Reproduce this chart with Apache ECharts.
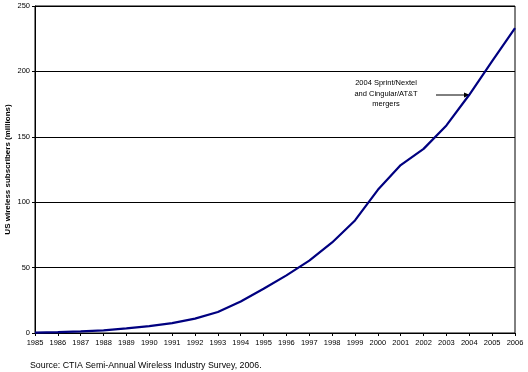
<!DOCTYPE html>
<html><head><meta charset="utf-8">
<script src="https://cdn.jsdelivr.net/npm/echarts@6/dist/echarts.min.js"></script>
<style>html,body{margin:0;padding:0;background:#fff}#c{width:528px;height:372px}</style>
</head><body><div id="c"></div>
<script>
var years = ['1985','1986','1987','1988','1989','1990','1991','1992','1993','1994','1995','1996','1997','1998','1999','2000','2001','2002','2003','2004','2005','2006'];
var subscribers = [0.34,0.68,1.23,2.07,3.51,5.28,7.56,11.03,16.01,24.13,33.79,44.04,55.31,69.21,86.05,109.48,128.37,140.77,158.72,182.14,207.9,233.0];
var yTicks = [0,50,100,150,200,250];
var yTitle = 'US wireless subscribers (millions)';
var sourceText = 'Source: CTIA Semi-Annual Wireless Industry Survey, 2006.';
var noteLines = ['2004 Sprint/Nextel','and Cingular/AT&T','mergers'];

var F = 'Liberation Sans, Arial, sans-serif';
var chart = echarts.init(document.getElementById('c'));
chart.setOption({
  animation:false,
  backgroundColor:'#fff',
  grid:{left:35,right:13,top:6,bottom:39,show:true,borderColor:'#000',borderWidth:1,containLabel:false,outerBoundsMode:'none'},
  xAxis:{type:'category',data:years,boundaryGap:false,
    axisLine:{lineStyle:{color:'#000',width:1}},
    axisTick:{show:true,length:3,lineStyle:{color:'#000'},alignWithLabel:true},
    axisLabel:{color:'#000',fontFamily:F,fontSize:7.5,margin:6,interval:0,hideOverlap:false},
    splitLine:{show:false}},
  yAxis:{type:'value',min:yTicks[0],max:yTicks[yTicks.length-1],interval:50,
    name:yTitle,nameLocation:'middle',nameGap:23,nameMoveOverlap:false,
    nameTextStyle:{color:'#000',fontFamily:F,fontSize:8,fontWeight:'bold'},
    axisLine:{show:true,lineStyle:{color:'#000',width:1}},
    axisTick:{show:true,length:3,lineStyle:{color:'#000'}},
    axisLabel:{color:'#000',fontFamily:F,fontSize:7.5,margin:5},
    splitLine:{show:true,lineStyle:{color:'#000',width:1}}},
  series:[{type:'line',data:subscribers,symbol:'none',smooth:false,
    lineStyle:{color:'#000080',width:2.2}}],
  graphic:[
    {type:'text',left:30,top:361,style:{text:sourceText,fill:'#000',font:'8.8px '+F}},
    {type:'text',x:386,y:78,style:{text:noteLines.join('\n'),fill:'#000',font:'7.5px '+F,textAlign:'center',lineHeight:10.5}},
    {type:'line',shape:{x1:436,y1:95,x2:466,y2:95},style:{stroke:'#000',lineWidth:1}},
    {type:'polygon',shape:{points:[[470,95],[464,92.5],[464,97.5]]},style:{fill:'#000'}}
  ]
});
</script></body></html>
